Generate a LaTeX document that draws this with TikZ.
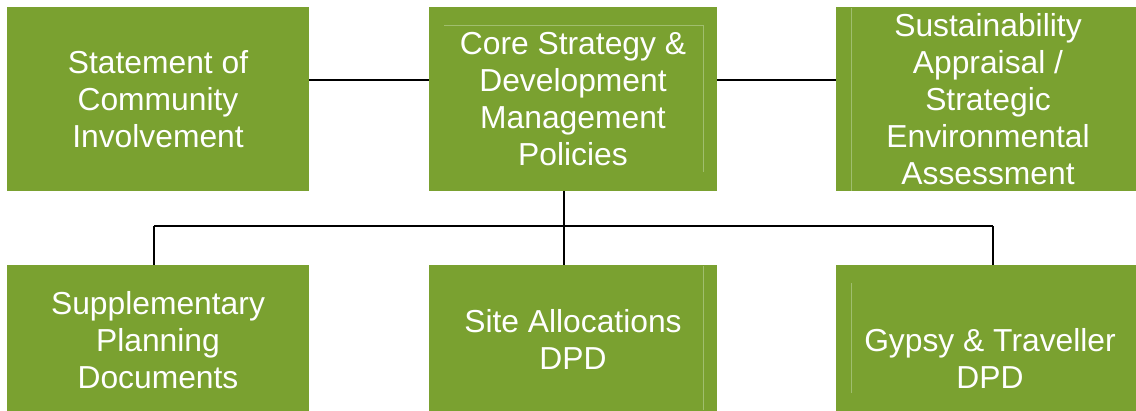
\documentclass[tikz,border=0pt]{standalone}
\usepackage{fontspec}
\setmainfont{Liberation Sans}
\definecolor{boxgreen}{RGB}{122,161,48}
\definecolor{faint}{RGB}{160,190,110}
\begin{document}
\begin{tikzpicture}[x=1pt,y=-1pt,
  box/.style={draw=none,fill=boxgreen,text=white,align=center,inner sep=0pt,
    font=\fontsize{31.8}{37}\selectfont},
  lbl/.style={text=white,align=center,inner sep=0pt,font=\fontsize{31.8}{37}\selectfont},
  conn/.style={draw=black,line width=1.5pt},
  faintline/.style={draw=faint,line width=0.7pt}]
\useasboundingbox (0,0) rectangle (1136,410);
% top row
\node[box,minimum width=302pt,minimum height=184pt] (b1) at (158,99) {Statement of\\Community\\Involvement};
\node[box,minimum width=288pt,minimum height=184pt] (b2) at (573,99) {};
\node[box,minimum width=300pt,minimum height=184pt] (b3) at (986,99) {};
% bottom row
\node[box,minimum width=302pt,minimum height=146pt] (b4) at (158,338) {};
\node[box,minimum width=288pt,minimum height=146pt] (b5) at (573,338) {};
\node[box,minimum width=300pt,minimum height=146pt] (b6) at (986,338) {};
% faint inner lines
\draw[faintline] (444,25) -- (703,25) -- (703,172);
\draw[faintline] (851,8) -- (851,191);
\draw[faintline] (703,266) -- (703,410);
\draw[faintline] (851,283) -- (851,393);
% labels
\node[lbl] (t2) at (573,99) {Core Strategy \&\\Development\\Management\\Policies};
\node[lbl] (t3) at (988,99) {Sustainability\\Appraisal /\\Strategic\\Environmental\\Assessment};
\node[lbl] (t4) at (158,340) {Supplementary\\Planning\\Documents};
\node[lbl] (t5) at (573,339) {Site Allocations\\DPD};
\node[lbl] (t6) at (990,358) {Gypsy \& Traveller\\DPD};
% connectors
\draw[conn] ([yshift=19pt]b1.east) -- ([yshift=19pt]b2.west);
\draw[conn] ([yshift=19pt]b2.east) -- ([yshift=19pt]b3.west);
\coordinate (j4) at (154,226);
\coordinate (j5) at (564,226);
\coordinate (j6) at (993,226);
\draw[conn] (j5 |- b2.south) -- (j5);
\draw[conn] (j4) -- (j6);
\draw[conn] (j4) -- (j4 |- b4.north);
\draw[conn] (j5) -- (j5 |- b5.north);
\draw[conn] (j6) -- (j6 |- b6.north);
\end{tikzpicture}
\end{document}
